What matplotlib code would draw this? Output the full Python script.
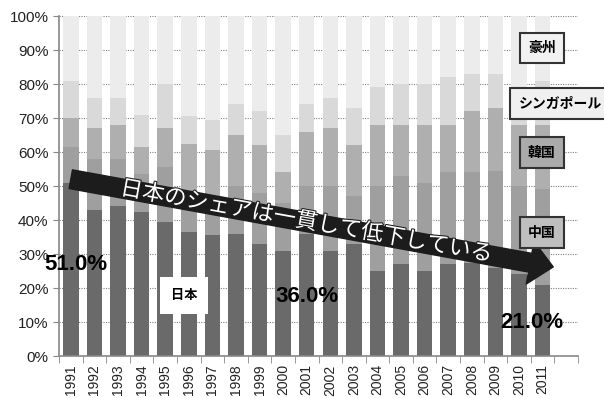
import numpy as np
import matplotlib
matplotlib.use("Agg")
import matplotlib.pyplot as plt
from matplotlib.patches import FancyArrowPatch
import matplotlib.patheffects as pe

# shares (%), bottom to top
years = [str(y) for y in range(1991, 2012)]
japan = [51, 43, 44, 42.5, 39.5, 36.5, 35.5, 36, 33, 31, 36, 31, 33, 25, 27, 25, 27, 27.5, 26, 24, 21]
china = [10.5, 15, 14, 11, 16, 11.5, 11.5, 14, 15, 14, 14, 19, 14, 25, 26, 26, 27, 26.5, 28.5, 26, 28]
korea = [8.5, 9, 10, 8, 11.5, 14.5, 13.5, 15, 14, 9, 16, 17, 15, 18, 15, 17, 14, 18, 18.5, 18, 19]
singapore = [11, 9, 8, 9.5, 13, 8, 9, 9, 10, 11, 8, 9, 11, 11, 12, 12, 14, 11, 10, 9, 13]
australia = [100 - a - b - c - d for a, b, c, d in zip(japan, china, korea, singapore)]

series = [japan, china, korea, singapore, australia]
colors = ["#6a6a6a", "#9f9f9f", "#afafaf", "#d9d9d9", "#ececec"]

JP = ["Noto Sans CJK JP", "DejaVu Sans"]
NUM = ["Liberation Sans", "DejaVu Sans"]

fig = plt.figure(figsize=(6.04, 3.98), dpi=100)
ax = fig.add_axes([59 / 604, 42 / 398, 519 / 604, 340 / 398])

x = np.arange(len(years))
bottom = np.zeros(len(years))
for vals, c in zip(series, colors):
    ax.bar(x, vals, 0.66, bottom=bottom, color=c, zorder=2)
    bottom += np.array(vals)

ax.set_xlim(-0.5, 21.5)
ax.set_ylim(0, 100)
ax.set_yticks(range(0, 101, 10))
ax.set_yticklabels([f"{v}%" for v in range(0, 101, 10)], fontsize=11, family=NUM, color="#222222")
ax.set_xticks(x)
ax.set_xticklabels(years, rotation=90, fontsize=10, family=NUM, color="#222222")
ax.set_xticks(np.arange(-0.5, 22, 1), minor=True)
ax.tick_params(axis="x", which="major", length=0, pad=6)
ax.tick_params(axis="x", which="minor", length=5, color="#888888")
ax.tick_params(axis="y", length=4, color="#888888")
ax.grid(axis="y", color="#808080", linestyle=(0, (1, 1.2)), linewidth=0.8, zorder=1)
for s in ["top", "right"]:
    ax.spines[s].set_visible(False)
for s in ["left", "bottom"]:
    ax.spines[s].set_color("#888888")
    ax.spines[s].set_linewidth(1.2)

# big trend arrow
arr = FancyArrowPatch((0.0, 52), (20.45, 26.2),
                      arrowstyle="simple,head_length=1.3,head_width=2.4,tail_width=1.05",
                      mutation_scale=13, color="#1c1c1c", shrinkA=0, shrinkB=0, zorder=5)
ax.add_patch(arr)
ax.text(10.0, 39.6, "日本のシェアは一貫して低下している", rotation=-10.2, rotation_mode="anchor",
        ha="center", va="center", fontsize=16, family=JP, color="white", zorder=6,
        path_effects=[pe.withStroke(linewidth=1.5, foreground="#1c1c1c")])

# value annotations
for xv, yv, t in [(0.2, 27, "51.0%"), (10.0, 17.6, "36.0%"), (19.55, 10, "21.0%")]:
    ax.text(xv, yv, t, fontsize=16, fontweight="bold", family=NUM, ha="center", va="center",
            color="black", zorder=7, clip_on=False)

# series labels
ax.text(4.8, 17.8, "日本", fontsize=9.5, fontweight="bold", family=JP, ha="center", va="center", zorder=7,
        bbox=dict(boxstyle="square,pad=0.85", facecolor="white", edgecolor="none"))
labels = [(19.97, 90.6, "豪州", "#f2f2f2"),
          (20.75, 74.2, "シンガポール", "#f0f0f0"),
          (19.97, 59.8, "韓国", "#ababab"),
          (19.97, 36.3, "中国", "#bfbfbf")]
for xv, yv, t, fc in labels:
    ax.text(xv, yv, t, fontsize=10, fontweight="bold", family=JP, ha="center", va="center", zorder=7,
            clip_on=False,
            bbox=dict(boxstyle="square,pad=0.6", facecolor=fc, edgecolor="#333333", linewidth=1.5))

fig.savefig("out.png", dpi=100)
